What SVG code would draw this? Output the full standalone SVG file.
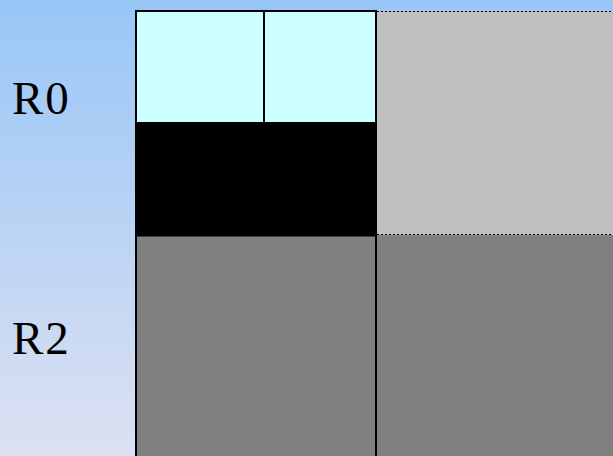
<svg xmlns="http://www.w3.org/2000/svg" width="613" height="456" viewBox="0 0 613 456">
<defs>
<linearGradient id="bg" x1="0" y1="0" x2="0" y2="1">
<stop offset="0" stop-color="#98c6f7"/>
<stop offset="1" stop-color="#dde1f1"/>
</linearGradient>
</defs>
<style>
.lbl{font-family:"Liberation Serif","DejaVu Serif",serif;font-size:47px;letter-spacing:2px;fill:#000;font-variant-numeric:oldstyle-nums}
.ln{stroke:#000;stroke-width:2;fill:none}
.dot{stroke:#000;stroke-width:1;stroke-dasharray:2,2;fill:none}
</style>
<rect x="0" y="0" width="613" height="456" fill="url(#bg)"/>
<g id="r0-label"><text class="lbl" x="12" y="114">R0</text></g>
<g id="r2-label"><text class="lbl" x="12" y="354">R2</text></g>
<g id="cell-a"><rect x="136" y="11" width="128" height="111" fill="#ccffff"/></g>
<g id="cell-b"><rect x="264" y="11" width="112" height="111" fill="#ccffff"/></g>
<g id="cell-black"><rect x="136" y="122" width="240" height="113" fill="#000"/></g>
<g id="cell-lightgray"><rect x="376" y="11" width="237" height="224" fill="#c0c0c0"/></g>
<g id="cell-dark-left"><rect x="136" y="235" width="240" height="221" fill="#808080"/></g>
<g id="cell-dark-right"><rect x="376" y="235" width="237" height="221" fill="#808080"/></g>
<g id="lines">
<line class="ln" x1="136" y1="11" x2="376" y2="11"/>
<line class="ln" x1="136" y1="10" x2="136" y2="456"/>
<line class="ln" x1="264" y1="11" x2="264" y2="122"/>
<line class="ln" x1="376" y1="10" x2="376" y2="456"/>
<line class="ln" x1="136" y1="235.5" x2="376" y2="235.5"/>
<line class="dot" x1="377" y1="11.5" x2="613" y2="11.5"/>
<line class="dot" x1="377" y1="234.5" x2="613" y2="234.5"/>
</g>
</svg>
